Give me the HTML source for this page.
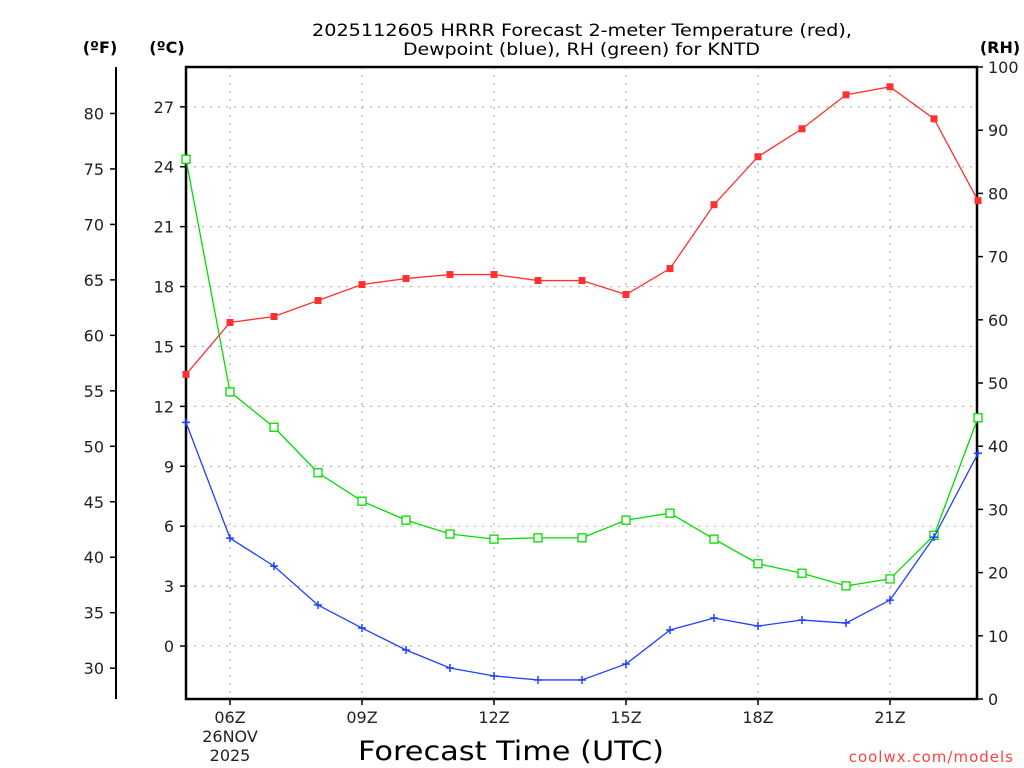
<!DOCTYPE html>
<html><head><meta charset="utf-8"><style>
body{margin:0;background:#fff;}
svg{display:block;font-family:"DejaVu Sans","Liberation Sans",sans-serif;}
</style></head><body>
<svg id="c" width="1024" height="768" viewBox="0 0 1024 768"></svg>
<script>
const hours=[5,6,7,8,9,10,11,12,13,14,15,16,17,18,19,20,21,22,23];
const tempC=[13.6,16.2,16.5,17.3,18.1,18.4,18.6,18.6,18.3,18.3,17.6,18.9,22.1,24.5,25.9,27.6,28.0,26.4,22.3];
const dewC=[11.2,5.4,4.0,2.05,0.9,-0.2,-1.1,-1.5,-1.7,-1.7,-0.9,0.8,1.4,1.0,1.3,1.15,2.3,5.45,9.65];
const rh=[85.4,48.6,43.0,35.8,31.3,28.3,26.1,25.3,25.5,25.5,28.3,29.4,25.3,21.4,19.9,17.9,19.0,25.9,44.5];
const cTicks=[0,3,6,9,12,15,18,21,24,27];
const fTicks=[30,35,40,45,50,55,60,65,70,75,80];
const rhTicks=[0,10,20,30,40,50,60,70,80,90,100];
const xTickHours=[6,9,12,15,18,21];
const xTickLabels=["06Z","09Z","12Z","15Z","18Z","21Z"];

const L=186,R=977,T=67,B=699;
const X=h=>L+(h-5)*44;
const YC=c=>646-c*19.97;
const YF=f=>YC((f-32)*5/9);
const YR=r=>B-r*(B-T)/100;
const svg=document.getElementById('c');
const NS='http://www.w3.org/2000/svg';
function el(tag,attrs,parent){const e=document.createElementNS(NS,tag);for(const k in attrs)e.setAttribute(k,attrs[k]);(parent||svg).appendChild(e);return e;}
function txt(x,y,s,attrs){const e=el('text',Object.assign({x:x,y:y},attrs||{}));e.textContent=s;return e;}

// grid
const grid=el('g',{stroke:'#b0b0b0','stroke-width':1.2,'stroke-dasharray':'2,6'});


cTicks.forEach(c=>el('line',{x1:L,x2:R,y1:YC(c),y2:YC(c)},grid));
xTickHours.forEach(h=>el('line',{x1:X(h),x2:X(h),y1:T,y2:B},grid));

// title
const t1=txt(312,36,"2025112605 HRRR Forecast 2-meter Temperature (red),",{'font-size':17,textLength:540,lengthAdjust:'spacingAndGlyphs'});


const t2=txt(403,55,"Dewpoint (blue), RH (green) for KNTD",{'font-size':17,textLength:357,lengthAdjust:'spacingAndGlyphs'});



// unit labels
[[100,"(ºF)"],[167,"(ºC)"],[1000,"(RH)"]].forEach(([x,s])=>{const e=txt(x,53,s,{'text-anchor':'middle','font-size':16,'font-weight':'bold'});});

// F axis
el('line',{x1:116,x2:116,y1:T,y2:B,stroke:'#000','stroke-width':2});
fTicks.forEach(f=>{el('line',{x1:110,x2:116,y1:YF(f),y2:YF(f),stroke:'#000','stroke-width':1.5});const e=txt(104,YF(f)+6,String(f),{'text-anchor':'end','font-size':16,fill:'#222'});});
// C axis
cTicks.forEach(c=>{el('line',{x1:180,x2:186,y1:YC(c),y2:YC(c),stroke:'#000','stroke-width':1.5});const e=txt(174,YC(c)+6,String(c),{'text-anchor':'end','font-size':16,fill:'#222'});});
// RH axis
rhTicks.forEach(r=>{el('line',{x1:R,x2:R+6,y1:YR(r),y2:YR(r),stroke:'#000','stroke-width':1.5});const e=txt(988,YR(r)+6,String(r),{'font-size':16,fill:'#222'});});
// X axis
xTickHours.forEach((h,i)=>{el('line',{x1:X(h),x2:X(h),y1:B,y2:B+6,stroke:'#000','stroke-width':1.5});const e=txt(X(h),723,xTickLabels[i],{'text-anchor':'middle','font-size':16,fill:'#222'});});
[["26NOV",742],["2025",761]].forEach(([s,y])=>{const e=txt(X(6),y,s,{'text-anchor':'middle','font-size':16,fill:'#222'});});
const xt=txt(358,760,"Forecast Time (UTC)",{'font-size':27,textLength:306,lengthAdjust:'spacingAndGlyphs'});


const cr=txt(1014,762,"coolwx.com/models",{'text-anchor':'end','font-size':15,fill:'#ff4040','letter-spacing':'1'});



// plot frame
const fr=el('rect',{x:L,y:T,width:R-L,height:B-T,fill:'none',stroke:'#000','stroke-width':2.5});



function series(vals,yf,color,name,marker){
  const g=el('g',{});
  
  
  el('polyline',{points:vals.map((v,i)=>X(hours[i])+','+yf(v)).join(' '),fill:'none',stroke:color,'stroke-width':1.3},g);
  vals.forEach((v,i)=>{const x=X(hours[i]),y=yf(v);let m;
    if(marker==='fill')m=el('rect',{x:x-3.5,y:y-3.5,width:7,height:7,fill:color},g);
    else if(marker==='open')m=el('rect',{x:x-4,y:y-4,width:8,height:8,fill:'#fff',stroke:color,'stroke-width':1.3},g);
    else{m=el('path',{d:`M${x-4},${y}H${x+4}M${x},${y-4}V${y+4}`,stroke:color,'stroke-width':1.5},g);}
    
    
  });
}
series(rh,YR,'#00dd00','rh-series','open');
series(dewC,YC,'#2040ff','dewpoint-series','plus');
series(tempC,YC,'#ff3030','temperature-series','fill');
</script>
</body></html>
